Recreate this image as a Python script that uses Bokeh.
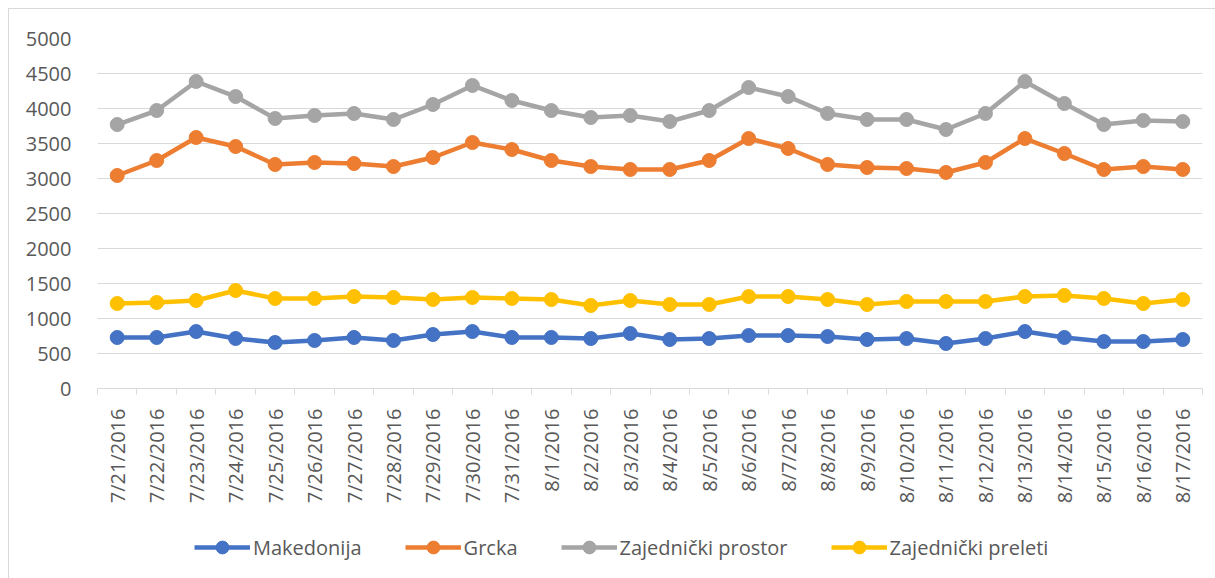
import math
from bokeh.plotting import figure
from bokeh.layouts import column
from bokeh.models import FixedTicker, Legend, LegendItem, ColumnDataSource, Range1d
from bokeh.embed import file_html
from bokeh.resources import INLINE

dates = ["7/21/2016", "7/22/2016", "7/23/2016", "7/24/2016", "7/25/2016", "7/26/2016", "7/27/2016",
         "7/28/2016", "7/29/2016", "7/30/2016", "7/31/2016", "8/1/2016", "8/2/2016", "8/3/2016",
         "8/4/2016", "8/5/2016", "8/6/2016", "8/7/2016", "8/8/2016", "8/9/2016", "8/10/2016",
         "8/11/2016", "8/12/2016", "8/13/2016", "8/14/2016", "8/15/2016", "8/16/2016", "8/17/2016"]

makedonija = [729, 729, 814, 714, 657, 686, 729, 686, 771, 814, 729, 729, 714, 786,
              700, 714, 757, 757, 743, 700, 714, 643, 714, 814, 729, 671, 671, 700]
grcka = [3043, 3257, 3586, 3457, 3200, 3229, 3214, 3171, 3300, 3514, 3414, 3257, 3171, 3129,
         3129, 3257, 3571, 3429, 3200, 3157, 3143, 3086, 3229, 3571, 3357, 3129, 3171, 3129]
prostor = [3771, 3971, 4386, 4171, 3857, 3900, 3929, 3843, 4057, 4329, 4114, 3971, 3871, 3900,
           3814, 3971, 4300, 4171, 3929, 3843, 3843, 3700, 3929, 4386, 4071, 3771, 3829, 3814]
preleti = [1214, 1229, 1257, 1400, 1286, 1286, 1314, 1300, 1271, 1300, 1286, 1271, 1186, 1257,
           1200, 1200, 1314, 1314, 1271, 1200, 1243, 1243, 1243, 1314, 1329, 1286, 1214, 1271]

series = [("Makedonija", makedonija, "#4472C4"),
          ("Grcka", grcka, "#ED7D31"),
          ("Zajednički prostor", prostor, "#A5A5A5"),
          ("Zajednički preleti", preleti, "#FFC000")]

n = len(dates)
xs = [i + 0.5 for i in range(n)]

FONT = "Open Sans"
TXT = "#595959"
W = 1206

p = figure(width=W, height=510, output_backend="svg", toolbar_location=None,
           x_range=Range1d(0, n), y_range=Range1d(0, 5000),
           min_border_left=88, min_border_right=13, min_border_top=29, min_border_bottom=131)
p.outline_line_color = None
p.background_fill_color = "white"
p.border_fill_color = "white"

p.ygrid.ticker = FixedTicker(ticks=list(range(0, 5001, 500)))
p.ygrid.grid_line_color = "#D9D9D9"
p.ygrid.grid_line_width = 1
p.xgrid.grid_line_color = None

p.yaxis.ticker = FixedTicker(ticks=list(range(0, 5001, 500)))
p.yaxis.axis_line_color = None
p.yaxis.major_tick_line_color = None
p.yaxis.minor_tick_line_color = None
p.yaxis.major_label_text_font = FONT
p.yaxis.major_label_text_font_size = "20px"
p.yaxis.major_label_text_color = TXT
p.yaxis.major_label_standoff = 20

p.xaxis.ticker = FixedTicker(ticks=xs, minor_ticks=list(range(0, n + 1)))
p.xaxis.major_label_overrides = {x: d for x, d in zip(xs, dates)}
p.xaxis.major_label_orientation = math.pi / 2
p.xaxis.major_tick_line_color = None
p.xaxis.minor_tick_line_color = "#D9D9D9"
p.xaxis.minor_tick_out = 6
p.xaxis.minor_tick_in = 0
p.xaxis.axis_line_color = "#D9D9D9"
p.xaxis.major_label_text_font = FONT
p.xaxis.major_label_text_font_size = "20px"
p.xaxis.major_label_text_color = TXT
p.xaxis.major_label_standoff = 14

for name, vals, col in series:
    src = ColumnDataSource(dict(x=xs, y=vals))
    p.line("x", "y", source=src, line_color=col, line_width=4.5)
    p.scatter("x", "y", source=src, size=14, fill_color=col, line_color=col)

# legend strip (its frame is aligned with the main plot's frame by the column layout)
lg = figure(width=W, height=59, output_backend="svg", toolbar_location=None,
            x_axis_location=None, y_axis_location=None,
            x_range=Range1d(0, 1), y_range=Range1d(0, 1),
            min_border_left=88, min_border_right=13, min_border_top=0, min_border_bottom=0)
lg.outline_line_color = None
lg.xgrid.grid_line_color = None
lg.ygrid.grid_line_color = None
items = []
for name, vals, col in series:
    l = lg.line(x=[-5, -4], y=[-5, -5], line_color=col, line_width=4.5)
    s = lg.scatter(x=[-5], y=[-5], size=14, fill_color=col, line_color=col)
    items.append(LegendItem(label=name, renderers=[l, s]))
legend = Legend(items=items, orientation="horizontal", location=(97, 15),
                label_text_font=FONT, label_text_font_size="20px", label_text_color=TXT,
                glyph_width=56, glyph_height=32, spacing=43, border_line_color=None,
                background_fill_alpha=0, margin=0, padding=0, label_standoff=3)
lg.add_layout(legend, "center")

layout = column(p, lg, spacing=0,
                styles={"border-left": "1px solid #D9D9D9", "border-top": "1px solid #D9D9D9",
                        "margin-left": "8px", "margin-top": "8px"})

open("out.html", "w").write(file_html(layout, INLINE))
